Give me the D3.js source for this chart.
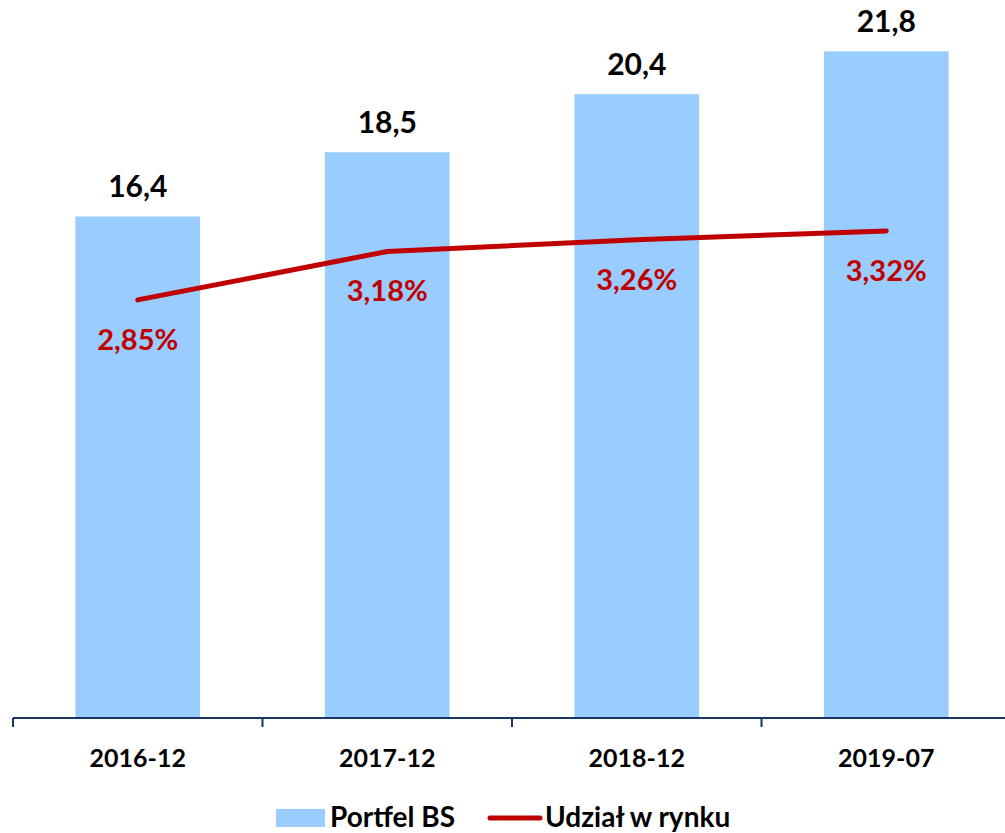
<!DOCTYPE html>
<html>
<head>
<meta charset="utf-8">
<script src="https://cdn.jsdelivr.net/npm/d3@7"></script>
<style>
  body { margin: 0; background: #fff; }
  text { font-family: Lato, "Open Sans", sans-serif; font-weight: bold; }
</style>
</head>
<body>
<svg id="chart" width="1005" height="833"></svg>
<script>
// data
var categories = ["2016-12", "2017-12", "2018-12", "2019-07"];
var portfel = [16.4, 18.5, 20.4, 21.8];
var udzial = [2.85, 3.18, 3.26, 3.32];
var portfelLabels = ["16,4", "18,5", "20,4", "21,8"];
var udzialLabels = ["2,85%", "3,18%", "3,26%", "3,32%"];

var svg = d3.select("#chart");
var baseY = 718;

var x = d3.scaleBand()
  .domain(categories)
  .range([13, 1011])
  .paddingInner(0.5)
  .paddingOuter(0.25);

var y = d3.scaleLinear().domain([0, 22]).range([baseY, baseY - 22 * 30.58]);
var y2 = d3.scaleLinear().domain([0, 4]).range([baseY, baseY - 4 * 146.7]);

// bars
svg.append("g")
  .selectAll("rect")
  .data(portfel)
  .enter()
  .append("rect")
  .attr("x", function (d, i) { return x(categories[i]); })
  .attr("y", function (d) { return y(d); })
  .attr("width", x.bandwidth())
  .attr("height", function (d) { return baseY - y(d); })
  .attr("fill", "#99CCFF");

// bar values
svg.append("g")
  .selectAll("text")
  .data(portfel)
  .enter()
  .append("text")
  .attr("x", function (d, i) { return x(categories[i]) + x.bandwidth() / 2; })
  .attr("y", function (d) { return y(d) - 19; })
  .attr("text-anchor", "middle")
  .attr("font-size", 30)
  .attr("fill", "#000")
  .text(function (d, i) { return portfelLabels[i]; });

// x axis
var axisStep = x.step();
var axisG = svg.append("g");
axisG.append("line")
  .attr("x1", 13).attr("x2", 1005)
  .attr("y1", baseY).attr("y2", baseY)
  .attr("stroke", "#17375E").attr("stroke-width", 2);
axisG.selectAll("line.tick")
  .data(d3.range(5))
  .enter()
  .append("line")
  .attr("class", "tick")
  .attr("x1", function (d) { return 13 + d * axisStep; })
  .attr("x2", function (d) { return 13 + d * axisStep; })
  .attr("y1", baseY).attr("y2", baseY + 9)
  .attr("stroke", "#17375E").attr("stroke-width", 2);
axisG.selectAll("text")
  .data(categories)
  .enter()
  .append("text")
  .attr("x", function (d) { return x(d) + x.bandwidth() / 2; })
  .attr("y", 767)
  .attr("text-anchor", "middle")
  .attr("font-size", 25)
  .attr("fill", "#000")
  .text(function (d) { return d; });

// line
var line = d3.line()
  .x(function (d, i) { return x(categories[i]) + x.bandwidth() / 2; })
  .y(function (d) { return y2(d); });

svg.append("path")
  .datum(udzial)
  .attr("d", line)
  .attr("fill", "none")
  .attr("stroke", "#C00000")
  .attr("stroke-width", 5)
  .attr("stroke-linecap", "round")
  .attr("stroke-linejoin", "round");

svg.append("g")
  .selectAll("text")
  .data(udzial)
  .enter()
  .append("text")
  .attr("x", function (d, i) { return x(categories[i]) + x.bandwidth() / 2; })
  .attr("y", function (d) { return y2(d) + 50; })
  .attr("text-anchor", "middle")
  .attr("font-size", 29)
  .attr("fill", "#C00000")
  .text(function (d, i) { return udzialLabels[i]; });

// legend
var leg = svg.append("g");
leg.append("rect")
  .attr("x", 276).attr("y", 809).attr("width", 49).attr("height", 18)
  .attr("fill", "#99CCFF");
leg.append("text")
  .attr("x", 330).attr("y", 827)
  .attr("font-size", 28).attr("fill", "#000")
  .text("Portfel BS");
leg.append("line")
  .attr("x1", 490).attr("x2", 540).attr("y1", 818).attr("y2", 818)
  .attr("stroke", "#C00000").attr("stroke-width", 5)
  .attr("stroke-linecap", "round");
leg.append("text")
  .attr("x", 545).attr("y", 827)
  .attr("font-size", 28).attr("fill", "#000")
  .text("Udział w rynku");
</script>
</body>
</html>
